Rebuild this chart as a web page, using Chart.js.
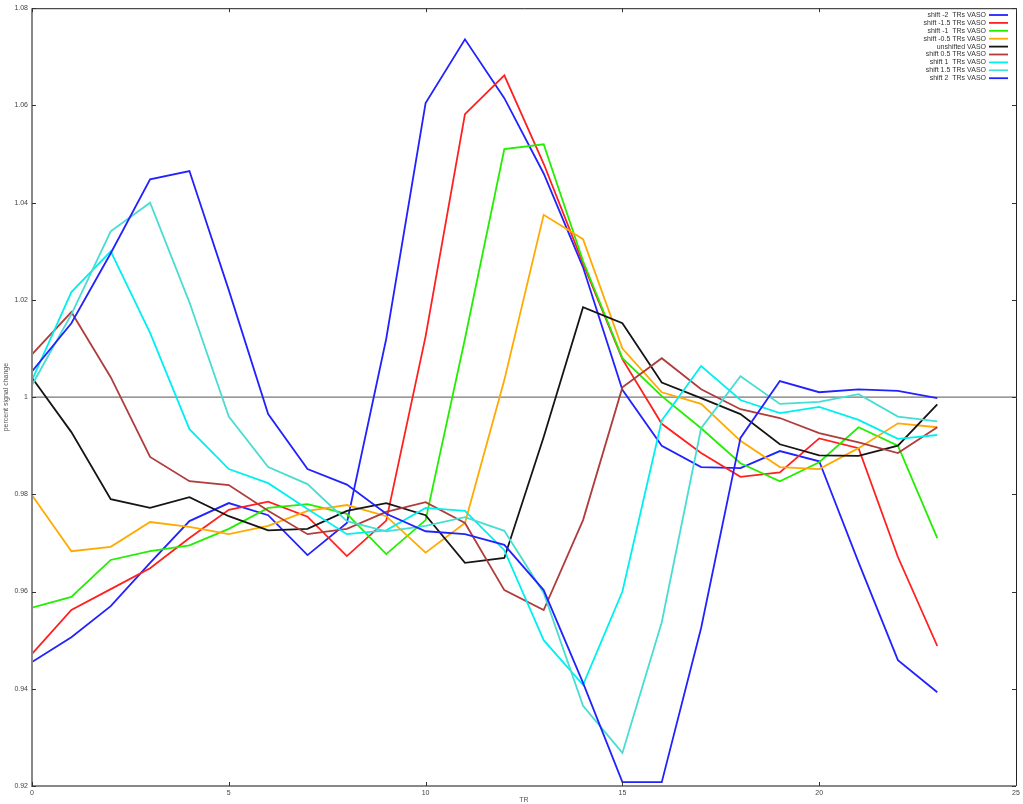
<!DOCTYPE html>
<html>
<head>
<meta charset="utf-8">
<script src="https://cdn.jsdelivr.net/npm/chart.js@4"></script>
<style>
  html, body { margin: 0; padding: 0; background: #fff; overflow: hidden; }
  #wrap { width: 1023px; height: 804px; }
</style>
</head>
<body>
<div id="wrap"><canvas id="chart"></canvas></div>
<script>
const trs = [0, 1, 2, 3, 4, 5, 6, 7, 8, 9, 10, 11, 12, 13, 14, 15, 16, 17, 18, 19, 20, 21, 22, 23];

const shiftM2 = [0.9455, 0.9506, 0.957, 0.9659, 0.9745, 0.9782, 0.9757, 0.9675, 0.9741, 1.012, 1.0605, 1.0736,
  1.0615, 1.046, 1.0267, 1.0015, 0.990, 0.9856, 0.9854, 0.9889, 0.9868, 0.966, 0.9459, 0.9393];
const shiftM15 = [0.9472, 0.9562, 0.9605, 0.9648, 0.971, 0.9768, 0.9785, 0.9754, 0.9673, 0.9746, 1.0125, 1.0582,
  1.0662, 1.048, 1.0275, 1.0078, 0.9945, 0.9885, 0.9836, 0.9845, 0.9915, 0.9895, 0.9671, 0.9488];
const shiftM1 = [0.9567, 0.9589, 0.9665, 0.9683, 0.9695, 0.9729, 0.9772, 0.978, 0.976, 0.9677, 0.9747, 1.012,
  1.051, 1.052, 1.028, 1.008, 1.0002, 0.9936, 0.9864, 0.9827, 0.9866, 0.9938, 0.990, 0.971];
const shiftM05 = [0.9798, 0.9683, 0.9692, 0.9743, 0.9733, 0.9718, 0.9735, 0.9766, 0.9778, 0.9755, 0.968, 0.9741,
  1.0035, 1.0375, 1.0325, 1.010, 1.001, 0.9986, 0.991, 0.9856, 0.9852, 0.9895, 0.9946, 0.9938];
const unshifted = [1.004, 0.9928, 0.979, 0.9772, 0.9794, 0.9755, 0.9726, 0.9729, 0.9766, 0.9782, 0.9757, 0.9659,
  0.9669, 0.9918, 1.0185, 1.0152, 1.003, 0.9998, 0.9965, 0.9903, 0.988, 0.9879, 0.990, 0.9985];
const shiftP05 = [1.0088, 1.0175, 1.0041, 0.9877, 0.9827, 0.9819, 0.9766, 0.9718, 0.9729, 0.9764, 0.9784, 0.9741,
  0.9603, 0.9562, 0.9747, 1.002, 1.008, 1.0016, 0.9975, 0.9957, 0.9926, 0.9907, 0.9885, 0.9938];
const shiftP1 = [1.0035, 1.0216, 1.030, 1.0132, 0.9934, 0.9852, 0.9823, 0.977, 0.9718, 0.9726, 0.9772, 0.9766,
  0.9685, 0.950, 0.9408, 0.960, 0.9952, 1.0064, 0.9994, 0.9967, 0.998, 0.9953, 0.9914, 0.9922];
const shiftP15 = [1.0025, 1.017, 1.0341, 1.040, 1.0195, 0.996, 0.9856, 0.9821, 0.9745, 0.9724, 0.9735, 0.9753,
  0.9725, 0.9597, 0.9365, 0.9268, 0.9537, 0.9936, 1.0043, 0.9986, 0.999, 1.0006, 0.996, 0.995];
const shiftP2 = [1.0053, 1.0152, 1.0296, 1.0448, 1.0465, 1.022, 0.9965, 0.9852, 0.982, 0.976, 0.9724, 0.9718,
  0.9696, 0.9603, 0.9412, 0.9208, 0.9208, 0.9525, 0.9916, 1.0033, 1.001, 1.0016, 1.0013, 0.9998];

const seriesNames = ["shift -2  TRs VASO", "shift -1.5 TRs VASO", "shift -1  TRs VASO", "shift -0.5 TRs VASO",
  "unshifted VASO", "shift 0.5 TRs VASO", "shift 1  TRs VASO", "shift 1.5 TRs VASO", "shift 2  TRs VASO"];
const seriesValues = [shiftM2, shiftM15, shiftM1, shiftM05, unshifted, shiftP05, shiftP1, shiftP15, shiftP2];
const seriesColors = ["#2222ff", "#ff2020", "#22ee00", "#ffaa00", "#151515", "#b03c3c", "#00f0f0", "#48ddd2", "#2222ff"];

const xTicks = [0, 5, 10, 15, 20, 25];
const yTicks = [0.92, 0.94, 0.96, 0.98, 1, 1.02, 1.04, 1.06, 1.08];

const datasets = seriesValues.map((vals, i) => ({
  label: seriesNames[i],
  data: vals.map((v, j) => ({ x: trs[j], y: v })),
  borderColor: seriesColors[i],
  backgroundColor: seriesColors[i],
  borderWidth: 1.8,
  pointRadius: 0,
  tension: 0,
  order: seriesValues.length - i,
}));

// frame, inward ticks, zero line and gnuplot style key
const framePlugin = {
  id: "frame",
  beforeDatasetsDraw(chart) {
    const { ctx, chartArea: a, scales } = chart;
    const y1 = scales.y.getPixelForValue(1);
    ctx.save();
    ctx.strokeStyle = "#777";
    ctx.lineWidth = 1.3;
    ctx.beginPath();
    ctx.moveTo(a.left, y1);
    ctx.lineTo(a.right, y1);
    ctx.stroke();
    ctx.restore();
  },
  afterDraw(chart) {
    const { ctx, chartArea: a, scales } = chart;
    ctx.save();
    ctx.strokeStyle = "#222";
    ctx.lineWidth = 1;
    ctx.beginPath();
    ctx.moveTo(a.left, a.top + 0.5);
    ctx.lineTo(a.right + 0.5, a.top + 0.5);
    ctx.lineTo(a.right + 0.5, a.bottom);
    ctx.stroke();
    ctx.strokeStyle = "#888";
    ctx.lineWidth = 2;
    ctx.beginPath();
    ctx.moveTo(a.left, a.top);
    ctx.lineTo(a.left, a.bottom);
    ctx.lineTo(a.right, a.bottom);
    ctx.stroke();

    ctx.strokeStyle = "#333";
    ctx.lineWidth = 1;
    ctx.beginPath();
    xTicks.forEach((t) => {
      const px = Math.round(scales.x.getPixelForValue(t)) + 0.5;
      ctx.moveTo(px, a.bottom);
      ctx.lineTo(px, a.bottom - 4);
      ctx.moveTo(px, a.top);
      ctx.lineTo(px, a.top + 4);
    });
    yTicks.forEach((t) => {
      const py = Math.round(scales.y.getPixelForValue(t)) + 0.5;
      ctx.moveTo(a.left, py);
      ctx.lineTo(a.left + 4, py);
      ctx.moveTo(a.right, py);
      ctx.lineTo(a.right - 4, py);
    });
    ctx.stroke();

    ctx.font = "7px 'Liberation Sans', Arial, sans-serif";
    ctx.fillStyle = "#333";
    ctx.textAlign = "right";
    ctx.textBaseline = "middle";
    chart.data.datasets.forEach((ds, i) => {
      const ty = 15 + i * 7.9;
      ctx.fillText(ds.label, 986, ty);
      ctx.strokeStyle = ds.borderColor;
      ctx.lineWidth = 1.8;
      ctx.beginPath();
      ctx.moveTo(989, ty);
      ctx.lineTo(1008, ty);
      ctx.stroke();
    });
    ctx.restore();
  },
};

const tickFont = { size: 7, family: "'Liberation Sans', Arial, sans-serif" };

const config = {
  type: "line",
  data: { datasets: datasets },
  options: {
    responsive: true,
    maintainAspectRatio: false,
    animation: false,
    layout: { padding: { top: 8, right: 7, left: 0, bottom: 0 } },
    plugins: { legend: { display: false }, tooltip: { enabled: false } },
    scales: {
      x: {
        type: "linear",
        min: 0,
        max: 25,
        grid: { display: false, drawTicks: false, tickLength: 0 },
        border: { display: false },
        ticks: { stepSize: 5, color: "#444", font: tickFont, padding: 3, maxRotation: 0 },
        title: { display: true, text: "TR", color: "#555", font: tickFont, padding: 0 },
        afterFit: (s) => { s.height = 18; },
      },
      y: {
        min: 0.92,
        max: 1.08,
        grid: { display: false, drawTicks: false, tickLength: 0 },
        border: { display: false },
        ticks: {
          stepSize: 0.02,
          color: "#444",
          font: tickFont,
          padding: 4,
          callback: (v) => String(Number(v.toFixed(2))),
        },
        title: { display: true, text: "percent signal change", color: "#555", font: tickFont, padding: 2 },
        afterFit: (s) => { s.width = 32; },
      },
    },
  },
  plugins: [framePlugin],
};

const chart = new Chart(document.getElementById("chart"), config);
</script>
</body>
</html>
